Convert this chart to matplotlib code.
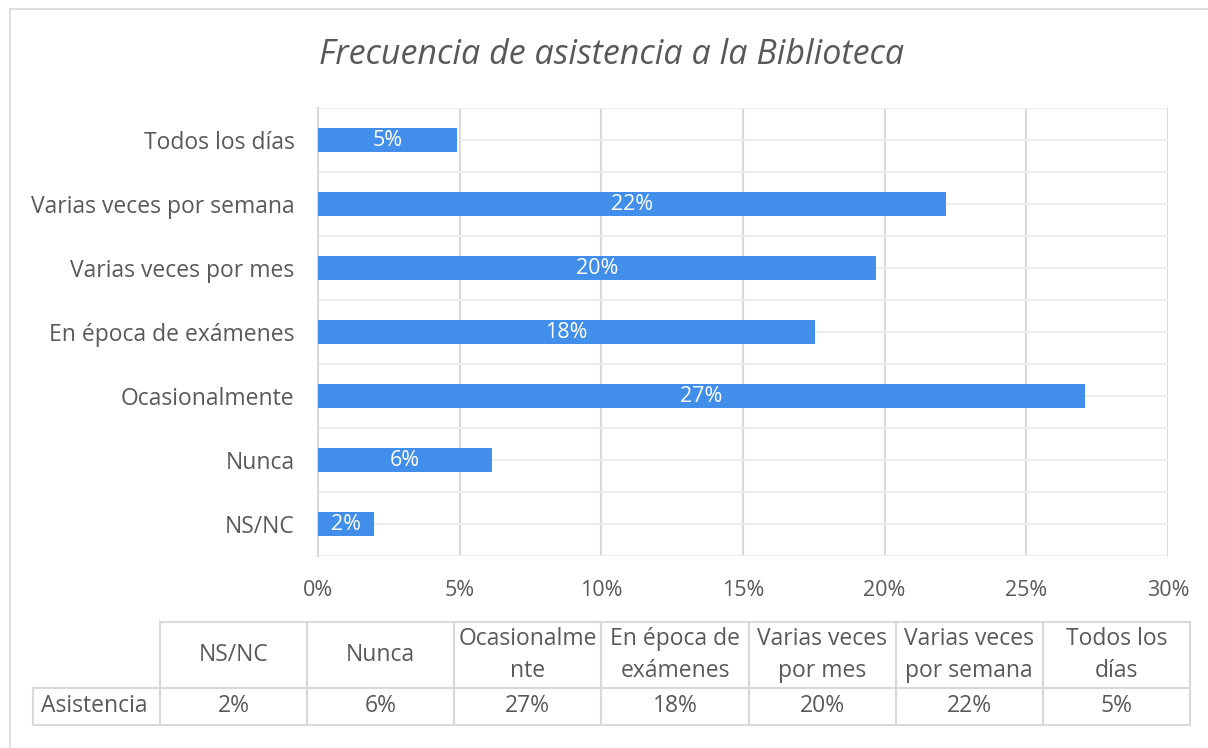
import matplotlib.pyplot as plt
from matplotlib.patches import Rectangle
import numpy as np

# --- Datos ---
categorias = ["NS/NC", "Nunca", "Ocasionalmente", "En época de exámenes",
              "Varias veces por mes", "Varias veces por semana", "Todos los días"]
asistencia = [1.98, 6.14, 27.07, 17.54, 19.7, 22.17, 4.9]
etiquetas = ["2%", "6%", "27%", "18%", "20%", "22%", "5%"]
encabezados_tabla = ["NS/NC", "Nunca", "Ocasionalme\nnte", "En época de\nexámenes",
                     "Varias veces\npor mes", "Varias veces\npor semana", "Todos los\ndías"]
fila_tabla = "Asistencia"
xticks = [0, 5, 10, 15, 20, 25, 30]

plt.rcParams["font.family"] = ["Open Sans", "DejaVu Sans"]
gris_texto = "#595959"
gris_linea = "#d9d9d9"
azul = "#418fea"

W, H = 1208, 748
fig = plt.figure(figsize=(W / 100, H / 100), dpi=100)

# marco exterior
fig.patches.append(Rectangle((10 / W, -0.1), 1.2, 1 - 9 / H + 0.1, transform=fig.transFigure,
                             fill=False, edgecolor=gris_linea, linewidth=1.2))

# --- Eje de barras ---
ax = fig.add_axes([318 / W, 1 - 556 / H, 850 / W, 448 / H])
y = np.arange(len(categorias))
bars = ax.barh(y, asistencia, height=0.375, color=azul, zorder=3)
ax.set_xlim(0, 30)
ax.set_ylim(-0.5, len(categorias) - 0.5)
ax.set_xticks(xticks)
ax.set_xticklabels([f"{t}%" for t in xticks], color=gris_texto, fontsize=15.5)
ax.set_yticks(y)
ax.set_yticklabels(categorias, color=gris_texto, fontsize=16.5)
ax.set_yticks(np.arange(-0.5, len(categorias), 1), minor=True)
ax.tick_params(axis="y", which="both", length=0, pad=17)
ax.tick_params(axis="x", length=0, pad=17)
ax.grid(axis="x", color=gris_linea, linewidth=1.5, zorder=0)
ax.grid(axis="y", which="both", color="#ededed", linewidth=1.5, zorder=0)
for s in ["top", "right", "bottom"]:
    ax.spines[s].set_visible(False)
ax.spines["left"].set_color(gris_linea)
ax.spines["left"].set_linewidth(1.5)

for b, lab in zip(bars, etiquetas):
    ax.text(b.get_x() + b.get_width() / 2, b.get_y() + b.get_height() / 2, lab,
            ha="center", va="center", color="white", fontsize=15.5, zorder=4)

fig.text(612 / W, 1 - 55 / H, "Frecuencia de asistencia a la Biblioteca",
         ha="center", va="center", style="italic", fontsize=24.5, color=gris_texto)

# --- Tabla de datos ---
ancho_lab = 127
ancho_col = (1190 - 160) / 7
alto_enc = 66
alto_val = 37
total_ancho = ancho_lab + ancho_col * len(encabezados_tabla)
tax = fig.add_axes([33 / W, 1 - 725 / H, total_ancho / W, (alto_enc + alto_val) / H])
tax.set_xlim(0, total_ancho)
tax.set_ylim(0, alto_enc + alto_val)
tax.axis("off")

tax.add_patch(Rectangle((0, 0), ancho_lab, alto_val, fill=False,
                        edgecolor=gris_linea, linewidth=1.5, clip_on=False))
tax.text(8, alto_val / 2, fila_tabla, ha="left", va="center",
         fontsize=16.5, color=gris_texto)
for j, (enc, val) in enumerate(zip(encabezados_tabla, etiquetas)):
    x0 = ancho_lab + j * ancho_col
    tax.add_patch(Rectangle((x0, alto_val), ancho_col, alto_enc, fill=False,
                            edgecolor=gris_linea, linewidth=1.5, clip_on=False))
    tax.add_patch(Rectangle((x0, 0), ancho_col, alto_val, fill=False,
                            edgecolor=gris_linea, linewidth=1.5, clip_on=False))
    tax.text(x0 + ancho_col / 2, alto_val + alto_enc / 2, enc, ha="center", va="center",
             fontsize=16.5, color=gris_texto, linespacing=1.45)
    tax.text(x0 + ancho_col / 2, alto_val / 2, val, ha="center", va="center",
             fontsize=16.5, color=gris_texto)

fig.savefig("out.png", dpi=100, facecolor="white")
